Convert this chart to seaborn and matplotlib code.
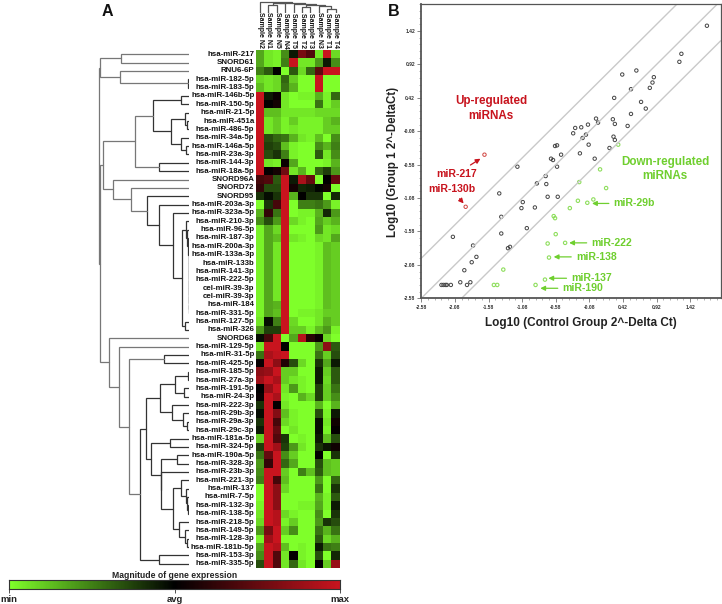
import numpy as np
import pandas as pd
import seaborn as sns
import matplotlib.pyplot as plt
from matplotlib.colors import LinearSegmentedColormap

W, H = 722, 604

# heatmap data
samples = ["Sample N2", "Sample N1", "Sample N5", "Sample N4", "Sample T5",
           "Sample T2", "Sample T3", "Sample N3", "Sample T1", "Sample T4"]
genes = ["hsa-miR-217", "SNORD61", "RNU6-6P", "hsa-miR-182-5p", "hsa-miR-183-5p",
         "hsa-miR-146b-5p", "hsa-miR-150-5p", "hsa-miR-21-5p", "hsa-miR-451a", "hsa-miR-486-5p",
         "hsa-miR-34a-5p", "hsa-miR-146a-5p", "hsa-miR-23a-3p", "hsa-miR-144-3p", "hsa-miR-18a-5p",
         "SNORD96A", "SNORD72", "SNORD95", "hsa-miR-203a-3p", "hsa-miR-323a-5p",
         "hsa-miR-210-3p", "hsa-miR-96-5p", "hsa-miR-187-3p", "hsa-miR-200a-3p", "hsa-miR-133a-3p",
         "hsa-miR-133b", "hsa-miR-141-3p", "hsa-miR-222-5p", "cel-miR-39-3p", "cel-miR-39-3p",
         "hsa-miR-184", "hsa-miR-331-5p", "hsa-miR-127-5p", "hsa-miR-326", "SNORD68",
         "hsa-miR-129-5p", "hsa-miR-31-5p", "hsa-miR-425-5p", "hsa-miR-185-5p", "hsa-miR-27a-3p",
         "hsa-miR-191-5p", "hsa-miR-24-3p", "hsa-miR-222-3p", "hsa-miR-29b-3p", "hsa-miR-29a-3p",
         "hsa-miR-29c-3p", "hsa-miR-181a-5p", "hsa-miR-324-5p", "hsa-miR-190a-5p", "hsa-miR-328-3p",
         "hsa-miR-23b-3p", "hsa-miR-221-3p", "hsa-miR-137", "hsa-miR-7-5p", "hsa-miR-132-3p",
         "hsa-miR-138-5p", "hsa-miR-218-5p", "hsa-miR-149-5p", "hsa-miR-128-3p", "hsa-miR-181b-5p",
         "hsa-miR-153-3p", "hsa-miR-335-5p"]
expr = [
    [-.65, -.9, -.95, -.55, -.1, .6, .4, -.9, 1, -.85],
    [-.65, -.9, -.95, -.5, 1, -.9, -.9, -.6, -.1, -.55],
    [-.5, -.35, 0, -1, -.35, -.85, -.4, .45, 1, 1],
    [-.85, -.9, -.85, -.4, -.8, -1, -1, 1, -1, -1],
    [-.75, -.9, -.85, -.45, -.7, -1, -1, 1, -1, -1],
    [1, -.1, .05, -.9, -1, -.95, -.95, -.7, -.95, -.4],
    [1, .02, .1, -.9, -1, -1, -1, -.45, -.95, -.8],
    [1, -.75, -.75, -.9, -.9, -.9, -.9, -.85, -.85, -.85],
    [1, -.9, -.8, -.95, -.8, -.95, -.95, -.95, -.8, -.7],
    [1, -.9, -.8, -.95, -.9, -.95, -.95, -.95, -.8, -.8],
    [1, -.3, -.4, -.45, -.7, -.9, -.95, -.75, -1, -.55],
    [1, -.25, -.3, -.75, -.95, -1, -1, -.55, -.7, -.5],
    [1, -.3, -.2, -.5, -.95, -1, -1, -.35, -.9, -.55],
    [1, -.9, -.95, .05, -.65, -1, -1, -1, -.95, -.7],
    [1, .02, .1, .55, -.9, -.7, -1, -.4, -.25, -.6],
    [.35, .4, -.35, 1, -.1, .85, .5, -1, 0, .5],
    [.25, -.3, -.3, 1, .1, -.15, -.12, -.02, .1, -1],
    [-.2, -.05, -.2, 1, -.7, 0, -.2, -.2, -1, -.15],
    [-1, -.2, .35, 1, -1, -.5, -.5, -.45, -.6, -.95],
    [-.7, .25, -.45, 1, -1, -.95, -.95, -.7, -.15, -.6],
    [-.55, -.3, -.6, 1, -.85, -.95, -1, -.65, -.8, -.7],
    [-.95, -.65, -.85, 1, -1, -1, -1, -.6, -.9, -.85],
    [-.95, -.65, -.75, 1, -.9, -.95, -1, -.85, -.9, -.65],
    [-.95, -.65, -.9, 1, -1, -1, -1, -.95, -.75, -.8],
    [-.95, -.65, -.9, 1, -1, -1, -1, -.95, -.75, -.8],
    [-.95, -.65, -.9, 1, -1, -1, -1, -.95, -.75, -.8],
    [-.95, -.65, -.9, 1, -1, -1, -1, -.95, -.75, -.8],
    [-.95, -.65, -.9, 1, -1, -1, -1, -.95, -.75, -.8],
    [-.95, -.65, -.9, 1, -1, -1, -1, -.95, -.75, -.8],
    [-.95, -.65, -.9, 1, -1, -1, -1, -.95, -.75, -.8],
    [-.95, -.65, -.7, 1, -1, -1, -1, -.95, -.75, -.8],
    [-.95, -.65, -.75, 1, -1, -.95, -.95, -.9, -.8, -.8],
    [-.9, -.05, -.5, 1, -.85, -1, -1, -.9, -.7, -.8],
    [-.6, -.25, -.25, 1, -.8, -.8, -.95, -.75, -.6, -.95],
    [-.05, .35, 1, -1, -.65, .9, .2, .05, -.85, -1],
    [-.9, 1, 1, 0, -1, -1, -1, -.6, .7, -.35],
    [-.45, .85, .95, 1, -1, -1, -1, -.45, -.8, -.3],
    [.05, 1, .7, .15, -.3, -.85, -1, -.2, -.65, -.1],
    [.7, .75, 1, -.8, -.8, -1, -1, -.1, -.8, -.35],
    [.8, 1, .85, -.8, -.9, -.95, -1, -.1, -.85, -.35],
    [0, .75, 1, -.9, -.6, -.95, -1, -.25, -.8, -.45],
    [.05, 1, .85, -.95, -1, -.7, -.85, -.25, -.8, -.55],
    [-.2, 1, 0, -.9, -1, -1, -1, -.7, -1, -.7],
    [-.05, 1, .65, -.75, -.95, -1, -1, -.3, -.95, -.1],
    [-.2, 1, .35, -.85, -.95, -1, -1, -.05, -.9, .08],
    [-.1, 1, .5, -1, -.9, -1, -1, -.05, -.95, .02],
    [-.8, 1, .4, -.2, -1, -.95, -1, -.1, -.75, -.3],
    [-.25, 1, .8, -.25, -.6, -.9, -1, -.2, -.08, .08],
    [-.45, .5, 1, -.55, -.8, -1, -1, 0, -1, -.2],
    [-.6, .25, 1, -.4, -.65, -1, -1, -.3, -.75, -.8],
    [-.55, 1, 1, -.8, -1, -.5, -.75, -.35, -.75, -.8],
    [-.5, 1, .35, -.75, -1, -1, -1, -.6, -1, -.4],
    [-1, 1, .7, -.85, -1, -1, -1, -.45, -1, -.2],
    [-1, 1, .7, -1, -1, -1, -1, -.7, -.95, -.35],
    [-.95, 1, .7, -1, -1, -.95, -.95, -.65, -.95, -.1],
    [-.9, 1, .9, -.85, -.95, -1, -1, -.55, -1, -.2],
    [-.85, 1, .9, -.95, -.8, -1, -1, -.6, -.2, -.3],
    [-.6, .6, 1, -.8, -.55, -1, -1, -.45, -.7, -.45],
    [-.95, .8, 1, -1, -1, -1, -1, -.35, -.85, -.7],
    [-.65, 1, .9, -.75, -1, -.95, -1, -.1, -.45, -.5],
    [-.55, 1, .4, -.9, .02, -.95, -1, -.3, -1, -.15],
    [-.3, 1, .4, -.9, -.4, -.9, -1, 0, -.8, .75],
]

# row tree: (merge position, left, right), leaves are row numbers from 1
chain_24_32 = (386, 24, (386, 25, (386, 26, (386, 27, (386, 28, (386, 29, (386, 30, (386, 31, 32))))))))
row_tree_a = (120, (182, 1, 2), (180, 3, (385, 4, 5)))
row_tree_c1 = (226, (278, (362, 6, 7), (332, (375, 8, (382, 9, 10)), (362, 11, (378, 12, 13)))), (296, 14, 15))
row_tree_r = (365, (378, 21, (382, 22, (385, 23, chain_24_32))), (375, 33, 34))
row_tree_c2 = (158, 16, (213, 17, (260, 18, (298, 19, (340, 20, row_tree_r)))))
row_tree_f = (300, (345, (383, 39, 40), (372, 41, 42)), (335, 43, (370, 44, (382, 45, 46))))
row_tree_j = (340, (362, 52, (378, 53, (382, 54, (384, 55, 56)))), (358, 57, (375, 58, (380, 59, 60))))
row_tree_g = (272, (330, 47, 48), (303, (352, 49, 50), (304, 51, row_tree_j)))
row_tree_d = (148, 35, (176, 36, (208, (313, 37, 38), (241, (257, row_tree_f, row_tree_g), (296, 61, 62)))))
row_tree = (118, row_tree_a, (120, (130, row_tree_c1, row_tree_c2), row_tree_d))
# column tree, merge heights
col_tree = (10.8, 0, (9.8, (9.2, (8, 1, 2), 3), (8.5, 4, (7.5, (6, 5, 6), (6.5, 7, (4, 8, 9))))))

# scatter data
ctrl_black = [1.67, 1.29, 1.26, .62, .41, .88, .86, .82, .54, .29, .69, .76, .54, .02, .27, .05, .30,
              -.10, -.20, -.29, .49, -.32, -.13, -.18, .28, .30, -.56, -.59, -.09, .22, -.22, -.50,
              -.65, -.62, 0, -1.15, -.56, -.73, -.86, -.72, -1.42, -1.07, -.70, -.55, -1.09, -.89,
              -1.39, -1.01, -1.39, -1.29, -1.26, -2.11, -1.81, -1.76, -1.83, -1.94, -1.85, -2.00,
              -1.90, -2.14, -2.20, -2.22, -2.25, -2.28]
grp_black = [1.50, 1.08, .96, .83, .77, .73, .65, .57, .55, .42, .36, .26, .18, .11, .10, .05, .03,
             .02, -.02, -.03, 0, -.11, -.13, -.18, -.16, -.21, -.29, -.30, -.28, -.33, -.41, -.43,
             -.49, -.51, -.49, -.61, -.61, -.75, -.86, -.87, -1.01, -1.14, -1.06, -1.06, -1.23, -1.22,
             -1.36, -1.53, -1.61, -1.83, -1.81, -1.66, -1.79, -1.96, -2.04, -2.16, -2.34, -2.34,
             -2.38, -2.38, -2.38, -2.38, -2.38, -2.38]
ctrl_red = [-1.64, -1.92]
grp_red = [-.43, -1.21]
ctrl_green = [.35, .08, -.23, .17, -.25, -.11, -.02, -.37, -.61, -.59, -.58, -.70, -.44, -.68, -1.36,
              -.74, -.88, -1.50, -1.45]
grp_green = [-.28, -.65, -.84, -.93, -1.12, -1.15, -1.10, -1.23, -1.35, -1.38, -1.62, -1.76, -1.75,
             -1.97, -2.15, -2.30, -2.38, -2.38, -2.38]
ticks = [-2.58, -2.08, -1.58, -1.08, -0.58, -0.08, 0.42, 0.92, 1.42]
fold_lines = [-0.6, 0, 0.6]

RED = "#c8141e"
GREEN = "#6fcf2f"
cmap = LinearSegmentedColormap.from_list("gbr", ["#7fff2a", "#000000", RED])
sns.set_theme(style="white", rc={"font.family": ["Liberation Sans", "DejaVu Sans"]})

fig = plt.figure(figsize=(W / 100, H / 100), dpi=100)


def px_axes(x0, y0, x1, y1):
    return fig.add_axes([x0 / W, 1 - y1 / H, (x1 - x0) / W, (y1 - y0) / H])


# heatmap
ax_h = px_axes(255.7, 50, 339.7, 568)
df = pd.DataFrame(expr, index=range(len(genes)), columns=samples)
sns.heatmap(df, ax=ax_h, cmap=cmap, vmin=-1, vmax=1, cbar=False, xticklabels=False, yticklabels=False)
ax_h.set_xlabel("")
ax_h.set_ylabel("")
for i, g in enumerate(genes):
    ax_h.text(-0.15, i + 0.5, g, ha="right", va="center", fontsize=5.7, fontweight="bold", color="#111111")
for j, s in enumerate(samples):
    ax_h.text(j + 0.55, -0.2, s, rotation=270, ha="center", va="bottom", fontsize=5.0,
              fontweight="bold", color="#111111")


# row dendrogram, positions are along the 3x crop scale of the tree
def draw_rows(node, ax):
    if isinstance(node, int):
        return 387, node - 0.5
    x, a, b = node
    xa, ya = draw_rows(a, ax)
    xb, yb = draw_rows(b, ax)
    col = "#777777" if x < 240 else "#333333"
    ax.plot([xa, x, x, xb], [ya, ya, yb, yb], color=col, lw=0.9, solid_joinstyle="miter")
    return x, (ya + yb) / 2


ax_r = px_axes(60, 50, 189, 568)
draw_rows(row_tree, ax_r)
ax_r.set_xlim(0, 387)
ax_r.set_ylim(len(genes), 0)
ax_r.axis("off")


# column dendrogram
def draw_cols(node, ax):
    if isinstance(node, int):
        return node + 0.5, 0
    h, a, b = node
    xa, ya = draw_cols(a, ax)
    xb, yb = draw_cols(b, ax)
    ax.plot([xa, xa, xb, xb], [ya, h, h, yb], color="#555555", lw=0.9)
    return (xa + xb) / 2, h


ax_c = px_axes(255.7, 0.5, 339.7, 12.5)
draw_cols(col_tree, ax_c)
ax_c.set_xlim(0, len(samples))
ax_c.set_ylim(0, 12)
ax_c.axis("off")

# colour bar
ax_b = px_axes(9, 580, 340, 589)
sns.heatmap([np.linspace(-1, 1, 256)], ax=ax_b, cmap=cmap, vmin=-1, vmax=1, cbar=False,
            xticklabels=False, yticklabels=False)
for sp in ax_b.spines.values():
    sp.set_visible(True)
    sp.set_color("#333333")
    sp.set_linewidth(0.8)
ax_b.set_xticks([0, 128, 256])
ax_b.set_xticklabels(["min", "avg", "max"], fontsize=6.8, fontweight="bold", color="#222222")
ax_b.tick_params(axis="x", length=3, width=0.6, pad=1, bottom=True, color="#333333")
ax_b.set_yticks([])
ax_b.set_title("Magnitude of gene expression", fontsize=6.2, fontweight="bold", color="#222222", pad=1.5,
               x=0.5)

# scatter
ax_s = px_axes(421.3, 3.7, 720.7, 298.3)
ax_s.set_xlim(-2.58, 1.875)
ax_s.set_ylim(-2.58, 1.83)
for off in fold_lines:
    ax_s.axline((0, off), slope=1, color="#c9c9c9", lw=1)
sns.scatterplot(x=ctrl_black, y=grp_black, ax=ax_s, s=6, facecolor="none", edgecolor="#444444", linewidth=0.7)
sns.scatterplot(x=ctrl_red, y=grp_red, ax=ax_s, s=6, facecolor="none", edgecolor="#d0433f", linewidth=0.7)
sns.scatterplot(x=ctrl_green, y=grp_green, ax=ax_s, s=6, facecolor="none", edgecolor="#8ede5c", linewidth=0.8)
ax_s.set_xticks(ticks)
ax_s.set_yticks(ticks)
ax_s.set_xticks(np.arange(-2.58, 1.87, 0.1), minor=True)
ax_s.set_yticks(np.arange(-2.58, 1.83, 0.1), minor=True)
ax_s.set_xticklabels(["%.2f" % t for t in ticks], fontsize=3.6, fontweight="bold", color="#333333")
ax_s.set_yticklabels(["%.2f" % t for t in ticks], fontsize=3.6, fontweight="bold", color="#333333")
ax_s.tick_params(which="major", left=True, bottom=True, length=3, width=0.5, pad=1.5, color="#555555")
ax_s.tick_params(which="minor", left=True, bottom=True, length=1.5, width=0.4, color="#777777")
for name, sp in ax_s.spines.items():
    sp.set_color("#555555")
    sp.set_linewidth(1.3 if name in ("left", "bottom") else 0.9)
ax_s.set_xlabel("Log10 (Control Group 2^-Delta Ct)", fontsize=8.5, fontweight="bold", color="#222222")
ax_s.set_ylabel("Log10 (Group 1 2^-DeltaCt)", fontsize=8.3, fontweight="bold", color="#222222")
ax_s.xaxis.set_label_coords(0.532, -0.062)
ax_s.yaxis.set_label_coords(-0.0745, 0.463)

ax_s.text(-1.54, 0.26, "Up-regulated\nmiRNAs", ha="center", va="center", color=RED, fontsize=8.4,
          fontweight="bold", linespacing=1.25)
ax_s.text(1.05, -0.65, "Down-regulated\nmiRNAs", ha="center", va="center", color=GREEN, fontsize=8.4,
          fontweight="bold", linespacing=1.25)


def note(label, xy, xytext, color, **kw):
    ax_s.annotate(label, xy=xy, xytext=xytext, color=color, fontsize=7.6, fontweight="bold",
                  ha=kw.get("ha", "left"), va="center",
                  arrowprops=dict(arrowstyle="-|>", color=color, lw=0.9, mutation_scale=7, shrinkA=1, shrinkB=0))


note("miR-217", (-1.70, -0.49), (-2.06, -0.72), RED, ha="center")
note("miR-130b", (-1.95, -1.16), (-2.13, -0.95), RED, ha="center")
note("miR-29b", (-0.04, -1.16), (0.28, -1.16), GREEN)
note("miR-222", (-0.38, -1.75), (-0.05, -1.75), GREEN)
note("miR-138", (-0.61, -1.96), (-0.28, -1.96), GREEN)
note("miR-137", (-0.69, -2.28), (-0.35, -2.28), GREEN)
note("miR-190", (-0.81, -2.43), (-0.48, -2.43), GREEN)

fig.text(102 / W, 1 - 11 / H, "A", fontsize=11.5, fontweight="bold", color="#111111", ha="left", va="center")
fig.text(388 / W, 1 - 11 / H, "B", fontsize=11.5, fontweight="bold", color="#111111", ha="left", va="center")

fig.savefig("out.png", dpi=100)
